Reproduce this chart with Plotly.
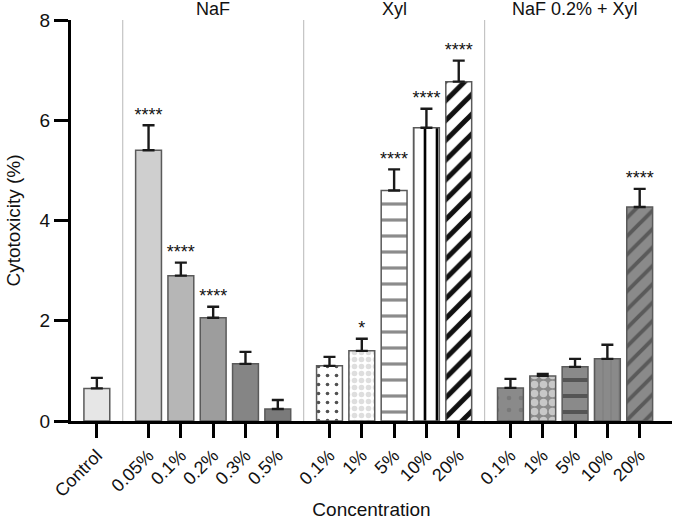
import plotly.graph_objects as go

# ---------------- data ----------------
groups = ["", "NaF", "Xyl", "NaF 0.2% + Xyl"]
group_labels = [
    ["Control"],
    ["0.05%", "0.1%", "0.2%", "0.3%", "0.5%"],
    ["0.1%", "1%", "5%", "10%", "20%"],
    ["0.1%", "1%", "5%", "10%", "20%"],
]
values = [
    [0.65],
    [5.40, 2.90, 2.06, 1.14, 0.24],
    [1.10, 1.40, 4.60, 5.85, 6.77],
    [0.66, 0.90, 1.08, 1.24, 4.27],
]
errors = [
    [0.21],
    [0.50, 0.26, 0.22, 0.24, 0.18],
    [0.18, 0.24, 0.42, 0.38, 0.42],
    [0.18, 0.04, 0.16, 0.28, 0.36],
]
stars = [
    [""],
    ["****", "****", "****", "", ""],
    ["", "*", "****", "****", "****"],
    ["", "", "", "", "****"],
]

# ---------------- styles ----------------
fills = [
    ["#e6e6e6"],
    ["#cfcfcf", "#b6b6b6", "#9d9d9d", "#858585", "#7a7a7a"],
    "#ffffff",
    "#8a8a8a",
]
pat_shape = [
    None,
    None,
    [".", ".", "-", "|", "/"],
    [".", ".", "-", "|", "/"],
]
pat_fg = [
    None,
    None,
    ["#505050", "#dedede", "#8c8c8c", "#000000", "#111111"],
    ["#787878", "#c8c8c8", "#555555", "#7e7e7e", "#5a5a5a"],
]
pat_size = [
    None,
    None,
    [9, 7, 16, 12, 14],
    [12, 9, 16, 8, 13],
]
pat_sol = [
    None,
    None,
    [0.13, 0.5, 0.2, 0.22, 0.36],
    [0.12, 0.55, 0.25, 0.15, 0.3],
]

GAP = 1.6
FONT = "Arial, Liberation Sans, sans-serif"

fig = go.Figure()
all_x, all_labels = [], []
group_centers, separators = [], []
pos = 0.0
for gi, labs in enumerate(group_labels):
    if gi > 0:
        separators.append(pos + GAP / 2)
        pos += GAP
    gx = []
    for j in range(len(labs)):
        gx.append(pos)
        if j < len(labs) - 1:
            pos += 1.0
    all_x += gx
    all_labels += labs
    group_centers.append((gx[0] + gx[-1]) / 2)

    marker = dict(color=fills[gi], line=dict(color="#5a5a5a", width=1.5))
    if pat_shape[gi] is not None:
        marker["pattern"] = dict(
            shape=pat_shape[gi], fgcolor=pat_fg[gi],
            bgcolor=[fills[gi]] * len(labs), size=pat_size[gi],
            solidity=pat_sol[gi], fgopacity=1)
    fig.add_trace(go.Bar(
        x=gx, y=values[gi], width=0.8, marker=marker,
        error_y=dict(type="data", symmetric=False, array=errors[gi],
                     arrayminus=[0] * len(labs), color="#1a1a1a",
                     thickness=2.4, width=6),
        showlegend=False,
    ))
    fig.add_trace(go.Scatter(
        x=gx, y=[a + b for a, b in zip(values[gi], errors[gi])],
        text=stars[gi], mode="text", textposition="top center",
        textfont=dict(size=18, color="#111111", family=FONT),
        showlegend=False, hoverinfo="skip",
    ))

shapes = []
for s in separators:
    shapes.append(dict(type="line", xref="x", yref="y", x0=s, x1=s, y0=0, y1=8,
                       line=dict(color="#c4c4c4", width=1.2), layer="below"))
annotations = []
for gname, gc in zip(groups, group_centers):
    if gname:
        annotations.append(dict(x=gc, y=1.0, xref="x", yref="paper",
                                text=gname, showarrow=False, yanchor="bottom",
                                yshift=-1,
                                font=dict(size=18, color="#111111")))

fig.update_layout(
    width=680, height=520,
    margin=dict(l=71, r=8, t=20, b=99),
    plot_bgcolor="white", paper_bgcolor="white",
    font=dict(family=FONT, color="#111111", size=18),
    shapes=shapes, annotations=annotations,
    barmode="overlay",
    xaxis=dict(
        range=[-0.8, pos + 1.0], tickvals=all_x, ticktext=all_labels,
        tickangle=-45,
        showline=True, linecolor="black", linewidth=3,
        ticks="outside", ticklen=14, tickwidth=3, tickcolor="black",
        showgrid=False, zeroline=False, automargin=False,
        tickfont=dict(size=18, color="#111111"),
        title=dict(text="Concentration", font=dict(size=19), standoff=10),
    ),
    yaxis=dict(
        range=[0, 8], tickvals=[0, 2, 4, 6, 8],
        showline=True, linecolor="black", linewidth=3,
        ticks="outside", ticklen=14, tickwidth=3, tickcolor="black",
        showgrid=False, zeroline=False, automargin=False,
        tickfont=dict(size=19, color="#111111"),
        title=dict(text="Cytotoxicity (%)", font=dict(size=19), standoff=14),
    ),
)

fig.write_html("out.html", config={"displayModeBar": False},
               post_script="document.body.style.margin='0px';")
